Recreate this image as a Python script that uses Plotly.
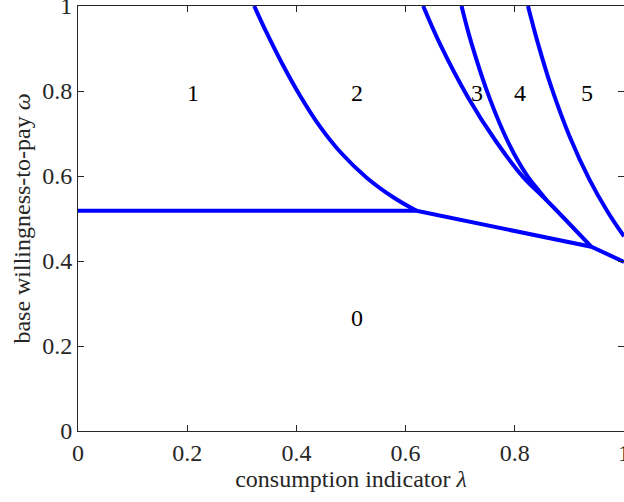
import plotly.graph_objects as go

# Boundary curves (lambda, omega)
b12_x = [0.3227, 0.3459, 0.3733, 0.4068, 0.4433, 0.4799, 0.5287, 0.5773, 0.6201]
b12_y = [1.0, 0.936, 0.866, 0.789, 0.716, 0.657, 0.596, 0.550, 0.518]

b23_x = [0.6322, 0.6627, 0.7144, 0.7664, 0.815, 0.8578, 0.940]
b23_y = [1.0, 0.9115, 0.785, 0.680, 0.598, 0.5435, 0.4337]

b34_x = [0.7024, 0.7207, 0.7541, 0.7907, 0.8241, 0.842, 0.8578]
b34_y = [1.0, 0.912, 0.782, 0.672, 0.598, 0.569, 0.5435]

b45_x = [0.8241, 0.8424, 0.8669, 0.9004, 0.937, 0.970, 1.0]
b45_y = [1.0, 0.912, 0.809, 0.693, 0.591, 0.516, 0.458]

b0_x = [0.0, 0.6201, 0.940, 1.0]
b0_y = [0.518, 0.518, 0.4337, 0.398]

region_labels = ["1", "2", "3", "4", "5", "0"]
region_x = [0.21, 0.511, 0.731, 0.81, 0.933, 0.511]
region_y = [0.795, 0.795, 0.795, 0.795, 0.795, 0.266]

tick_vals = [0, 0.2, 0.4, 0.6, 0.8, 1]
tick_text = ["0", "0.2", "0.4", "0.6", "0.8", "1"]

FONT = "Liberation Serif"
BLUE = "#0000FF"
FS = 24

fig = go.Figure()
for xs, ys in [(b12_x, b12_y), (b23_x, b23_y), (b34_x, b34_y), (b45_x, b45_y)]:
    fig.add_trace(go.Scatter(x=xs, y=ys, mode="lines",
                             line=dict(color=BLUE, width=4, shape="spline", smoothing=1.0),
                             showlegend=False, hoverinfo="skip"))
fig.add_trace(go.Scatter(x=b0_x, y=b0_y, mode="lines",
                         line=dict(color=BLUE, width=4),
                         showlegend=False, hoverinfo="skip"))

for t, x, y in zip(region_labels, region_x, region_y):
    fig.add_annotation(x=x, y=y, text=t, showarrow=False,
                       font=dict(family=FONT, size=FS, color="black"))

axis_common = dict(
    range=[0, 1], tickvals=tick_vals, ticktext=tick_text,
    ticks="inside", ticklen=6, tickwidth=1, tickcolor="#262626",
    showline=True, linecolor="#262626", linewidth=1, mirror="ticks",
    showgrid=False, zeroline=False, ticklabeloverflow="allow",
    automargin=False,
    tickfont=dict(family=FONT, size=FS, color="#262626"),
)

fig.update_layout(
    width=624, height=502,
    margin=dict(l=78, r=0, t=6, b=71),
    paper_bgcolor="white", plot_bgcolor="white",
    xaxis=dict(**axis_common,
               title=dict(text="consumption indicator <i>λ</i>",
                          font=dict(family=FONT, size=FS, color="#262626"),
                          standoff=2)),
    yaxis=dict(**axis_common,
               title=dict(text="base willingness-to-pay <i>ω</i>",
                          font=dict(family=FONT, size=FS, color="#262626"),
                          standoff=4)),
)

fig.write_html("out.html")
